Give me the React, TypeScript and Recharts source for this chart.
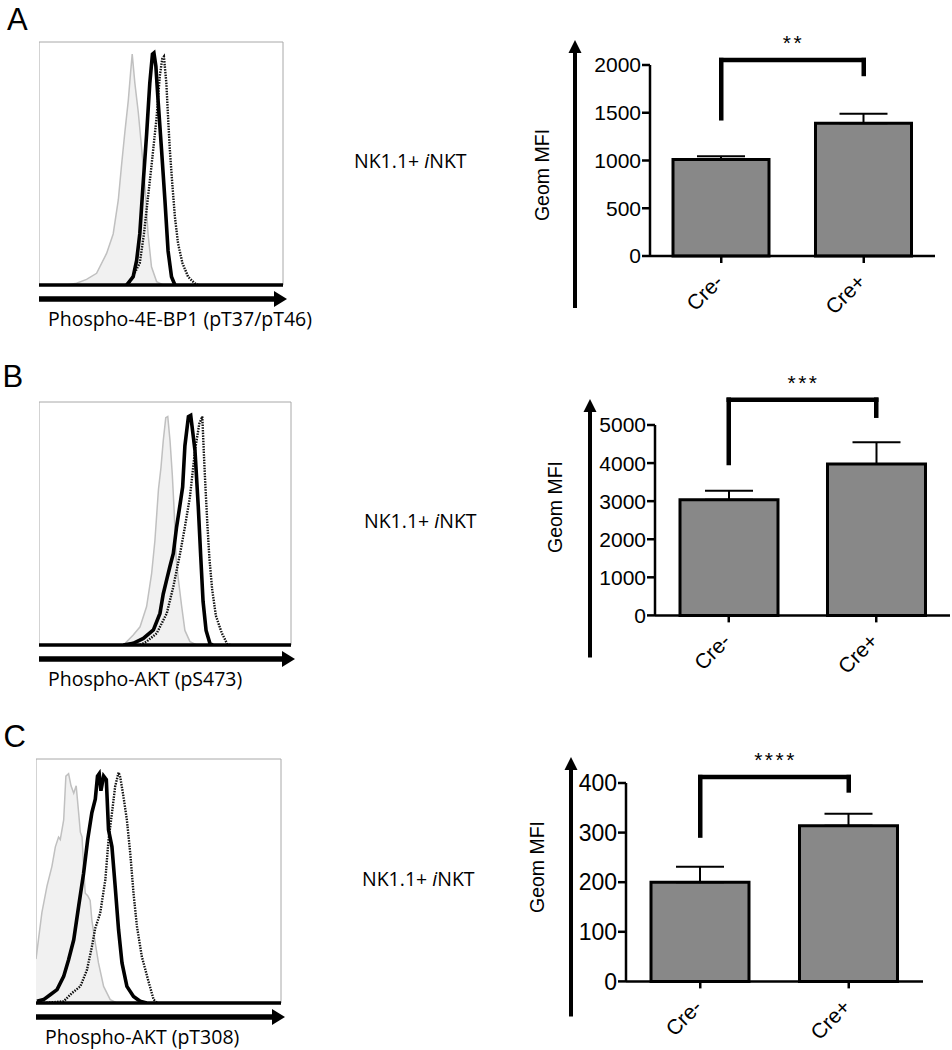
import React from 'react';
import {
  ComposedChart, Area, Line, XAxis, YAxis, ReferenceLine, ReferenceArea,
  BarChart, Bar, ErrorBar,
} from 'recharts';

// ---- flow histograms: [fluorescence channel, % of max] ----
const A_CONTROL = [[113, 0], [154, 0.7], [195, 2.3], [236, 4.8], [277, 13], [304, 21], [325, 35], [338, 49], [352, 63], [366, 76], [375, 87], [382, 95], [393, 83], [407, 71], [420, 57], [434, 41], [447, 21], [461, 7.5], [482, 1.4], [509, 0]];
const A_SOLID = [[359, 0], [386, 3.4], [400, 10], [413, 21], [427, 42], [441, 62], [454, 83], [465, 95], [471, 95.5], [479, 90], [488, 76], [502, 56], [516, 35], [529, 14], [543, 3.4], [557, 0]];
const A_DOTTED = [[366, 0], [413, 9], [430, 21], [461, 49], [482, 69], [495, 86], [505, 93], [512, 94], [522, 83], [529, 69], [536, 56], [546, 42], [557, 28], [570, 17], [588, 9], [611, 3.4], [638, 0.7], [652, 0]];

const B_CONTROL = [[335, 0], [374, 4.1], [401, 7.5], [427, 15.8], [447, 29.5], [460, 43], [474, 64], [484, 73], [493, 84], [503, 93.5], [511, 94], [520, 84], [529, 70], [536, 56], [544, 36], [553, 27], [566, 16], [579, 6], [599, 1.4], [626, 0]];
const B_SOLID = [[335, 0], [374, 0.7], [414, 2.7], [454, 6.2], [480, 13], [493, 21], [507, 27], [520, 32.5], [533, 37.7], [546, 48.6], [560, 58], [570, 65], [579, 82], [593, 94], [602, 94.5], [619, 80], [632, 57], [642, 36], [651, 18], [663, 6], [679, 0.4], [690, 0]];
const B_DOTTED = [[401, 0], [427, 1.4], [467, 4.8], [507, 13], [533, 24], [560, 37.7], [579, 48.6], [599, 61], [619, 80], [636, 91], [648, 94], [655, 77], [661, 64], [668, 50], [676, 36], [687, 23], [702, 12], [725, 5], [747, 0.4], [760, 0]];

const C_CONTROL = [[0, 18], [24, 37], [45, 48], [65, 56], [79, 64], [92, 68], [99, 67], [113, 75], [122, 93], [133, 94], [143, 89], [154, 86], [164, 89], [174, 78], [181, 70], [188, 68], [194, 56], [201, 45], [211, 44], [221, 42], [228, 34], [242, 24.5], [255, 16.4], [276, 6.8], [303, 1.4], [330, 0]];
const C_SOLID = [[4, 0.7], [31, 1.4], [58, 3.4], [86, 5.5], [113, 10.9], [133, 17.7], [154, 25.9], [174, 39.6], [194, 53], [211, 67], [228, 78], [242, 83.5], [251, 93], [258, 94], [265, 87], [276, 93], [287, 91.5], [296, 71], [310, 64], [323, 48], [337, 30], [351, 16.4], [371, 6.8], [398, 2.7], [425, 0.7], [452, 0]];
const C_DOTTED = [[31, 0], [113, 0.7], [147, 4.1], [181, 6.8], [208, 13.6], [228, 23], [242, 30.7], [262, 36.8], [283, 50.5], [296, 66.8], [310, 77.8], [323, 88.7], [337, 94.5], [344, 92.5], [357, 84.6], [371, 75], [385, 61], [398, 45], [412, 31.4], [432, 19], [459, 8.9], [480, 1.4], [495, 0]];

// ---- Geom MFI bars ----
const groups = ['Cre-', 'Cre+'];
const aMeans = [1010, 1390];
const aErrs = [35, 100];
const aTicks = [0, 500, 1000, 1500, 2000];
const aBracket = [2052, 1442, 1906]; // top, left foot, right foot

const bMeans = [3040, 3975];
const bErrs = [230, 570];
const bTicks = [0, 1000, 2000, 3000, 4000, 5000];
const bBracket = [5664, 4002, 5244];

const cMeans = [200, 314];
const cErrs = [31, 24];
const cTicks = [0, 100, 200, 300, 400];
const cBracket = [412, 294, 385];

const ARIAL = '"Liberation Sans", Arial, Helvetica, sans-serif';
const SANS = '"Open Sans", "Noto Sans", sans-serif';

const toPts = (rows: number[][]) => rows.map(([x, y]) => ({ x, y }));

const flowPanels = [
  { id: 'A', left: 39, top: 42, w: 244, h: 243, label: 'Phospho-4E-BP1 (pT37/pT46)', control: A_CONTROL, solid: A_SOLID, dotted: A_DOTTED },
  { id: 'B', left: 39, top: 402, w: 252, h: 243, label: 'Phospho-AKT (pS473)', control: B_CONTROL, solid: B_SOLID, dotted: B_DOTTED },
  { id: 'C', left: 36, top: 759, w: 245, h: 244, label: 'Phospho-AKT (pT308)', control: C_CONTROL, solid: C_SOLID, dotted: C_DOTTED },
];

const barPanels = [
  { id: 'A', left: 530, plotTop: 65, plotW: 285, plotH: 191, right: 12, barSize: 96, max: 2000, ticks: aTicks, means: aMeans, errs: aErrs, bracket: aBracket, stars: '**', tickFont: 21, arrowDx: 45, arrowTop: -25, arrowBottom: 52, titleDx: 12, titleDy: 110 },
  { id: 'B', left: 535, plotTop: 425.3, plotW: 295, plotH: 190.4, right: 2, barSize: 98, max: 5000, ticks: bTicks, means: bMeans, errs: bErrs, bracket: bBracket, stars: '***', tickFont: 21, arrowDx: 55, arrowTop: -26, arrowBottom: 42, titleDx: 20, titleDy: 82 },
  { id: 'C', left: 506, plotTop: 783.3, plotW: 297, plotH: 198.4, right: 12, barSize: 98, max: 400, ticks: cTicks, means: cMeans, errs: cErrs, bracket: cBracket, stars: '****', tickFont: 23, arrowDx: 65, arrowTop: -26, arrowBottom: 35, titleDx: 31, titleDy: 84 },
];

const letters = [
  { t: 'A', left: 7, top: 3.5 },
  { t: 'B', left: 2.5, top: 361 },
  { t: 'C', left: 3.5, top: 721 },
];

const subsetLabels = [
  { left: 354, top: 151 },
  { left: 364, top: 511 },
  { left: 362, top: 869 },
];

const FlowAxisLabel = ({ viewBox, text }: any) => {
  const { x = 0, y = 0, width = 0 } = viewBox || {};
  const ay = y + 14;
  const end = x + width + 4;
  return (
    <g>
      <line x1={x} y1={ay} x2={end - 10} y2={ay} stroke="#000" strokeWidth={5.5} />
      <polygon points={`${end},${ay} ${end - 13},${ay - 8} ${end - 13},${ay + 8}`} fill="#000" />
      <text x={x + 9} y={y + 41} fontSize={19.5} fontFamily={SANS} fill="#000">{text}</text>
    </g>
  );
};

function FlowPanel({ p }: { p: typeof flowPanels[number] }) {
  return (
    <div style={{ position: 'absolute', left: p.left, top: p.top - 2 }}>
      <ComposedChart width={p.w + 45} height={p.h + 62} margin={{ top: 2, right: 45, bottom: 0, left: 0 }}>
        <XAxis
          type="number" dataKey="x" domain={[0, 1000]} allowDataOverflow height={60}
          axisLine={false} tickLine={false} tick={false}
          label={{ content: (lp: any) => <FlowAxisLabel {...lp} text={p.label} /> }}
        />
        <YAxis type="number" domain={[0, 100]} allowDataOverflow hide />
        <ReferenceArea x1={0} x2={1000} y1={0} y2={100} fill="none" stroke="#a8a8a8" strokeWidth={1} ifOverflow="visible" />
        <Area data={toPts(p.control)} dataKey="y" type="linear" stroke="#c0c0c0" strokeWidth={1.5} fill="#f1f1f1" fillOpacity={1} dot={false} activeDot={false} isAnimationActive={false} />
        <Line data={toPts(p.dotted)} dataKey="y" type="linear" stroke="#111" strokeWidth={2.4} strokeDasharray="1.5 1.2" dot={false} activeDot={false} isAnimationActive={false} />
        <Line data={toPts(p.solid)} dataKey="y" type="linear" stroke="#000" strokeWidth={3.6} dot={false} activeDot={false} isAnimationActive={false} />
        <ReferenceLine y={0} stroke="#000" strokeWidth={3.5} />
      </ComposedChart>
    </div>
  );
}

const CreTick = ({ x, y, payload }: any) => (
  <g transform={`translate(${x + 3},${y + 18})`}>
    <text transform="rotate(-45)" textAnchor="end" fontSize={21} fontFamily={ARIAL} fill="#000">{payload.value}</text>
  </g>
);

function BarPanel({ p }: { p: typeof barPanels[number] }) {
  const data = groups.map((g, i) => ({ group: g, mfi: p.means[i], sem: [0, p.errs[i]] }));
  const marginTop = 60;
  const [top, leftFoot, rightFoot] = p.bracket;
  const axisLabel = (lp: any) => {
    const vb = lp.viewBox || {};
    const vx = vb.x ?? 0;
    const vy = vb.y ?? marginTop;
    const vh = vb.height ?? p.plotH;
    const ax = vx + p.arrowDx;
    const tip = vy + p.arrowTop;
    const bottom = vy + vh + p.arrowBottom;
    const lx = vx + p.titleDx;
    const ly = vy + p.titleDy;
    return (
      <g>
        <line x1={ax} y1={bottom} x2={ax} y2={tip + 10} stroke="#000" strokeWidth={4} />
        <polygon points={`${ax},${tip} ${ax - 6.5},${tip + 13} ${ax + 6.5},${tip + 13}`} fill="#000" />
        <text x={lx} y={ly} transform={`rotate(-90 ${lx} ${ly})`} textAnchor="middle" dominantBaseline="central" fontSize={19.5} fontFamily={ARIAL} fill="#000">Geom MFI</text>
      </g>
    );
  };
  const starLabel = (lp: any) => {
    const vb = lp.viewBox || {};
    return (
      <text x={(vb.x ?? 0) + (vb.width ?? 0) / 2 + 1} y={(vb.y ?? 0) - 10} textAnchor="middle" fontSize={21} letterSpacing={2.5} fontFamily={ARIAL} fill="#000">{p.stars}</text>
    );
  };
  const bracketStyle = { stroke: '#000', strokeWidth: 4.5, strokeLinecap: 'square' as const, ifOverflow: 'visible' as const };
  return (
    <div style={{ position: 'absolute', left: p.left, top: p.plotTop - marginTop }}>
      <BarChart width={120 + p.plotW + p.right} height={marginTop + p.plotH + 70} data={data} margin={{ top: marginTop, right: p.right, bottom: 0, left: 0 }}>
        <XAxis dataKey="group" height={70} interval={0} tickSize={7} axisLine={{ stroke: '#000', strokeWidth: 2.5 }} tickLine={{ stroke: '#000', strokeWidth: 2.5 }} tick={<CreTick />} />
        <YAxis
          width={120} domain={[0, p.max]} ticks={p.ticks} interval={0} tickSize={8} tickMargin={1}
          axisLine={{ stroke: '#000', strokeWidth: 2.5 }} tickLine={{ stroke: '#000', strokeWidth: 2.5 }}
          tick={{ fill: '#000', fontSize: p.tickFont, fontFamily: ARIAL }}
          label={{ content: axisLabel }}
        />
        <Bar dataKey="mfi" fill="#888888" stroke="#000" strokeWidth={3} barSize={p.barSize} isAnimationActive={false}>
          <ErrorBar dataKey="sem" width={24} stroke="#000" strokeWidth={2} direction="y" />
        </Bar>
        <ReferenceLine segment={[{ x: groups[0], y: leftFoot }, { x: groups[0], y: top }]} {...bracketStyle} />
        <ReferenceLine segment={[{ x: groups[1], y: rightFoot }, { x: groups[1], y: top }]} {...bracketStyle} />
        <ReferenceLine segment={[{ x: groups[0], y: top }, { x: groups[1], y: top }]} {...bracketStyle} label={{ content: starLabel }} />
      </BarChart>
    </div>
  );
}

export default function App() {
  return (
    <div style={{ position: 'absolute', left: 0, top: 0, width: 952, height: 1050, background: '#fff', overflow: 'hidden' }}>
      {letters.map((l) => (
        <div key={l.t} style={{ position: 'absolute', left: l.left, top: l.top, fontSize: 31, lineHeight: '31px', fontFamily: ARIAL, color: '#000' }}>{l.t}</div>
      ))}
      {subsetLabels.map((s, i) => (
        <div key={i} style={{ position: 'absolute', left: s.left, top: s.top, fontSize: 19.5, lineHeight: '19.5px', fontFamily: SANS, color: '#000', whiteSpace: 'nowrap' }}>
          NK1.1+ <i>i</i>NKT
        </div>
      ))}
      {flowPanels.map((p) => <FlowPanel key={p.id} p={p} />)}
      {barPanels.map((p) => <BarPanel key={p.id} p={p} />)}
    </div>
  );
}
